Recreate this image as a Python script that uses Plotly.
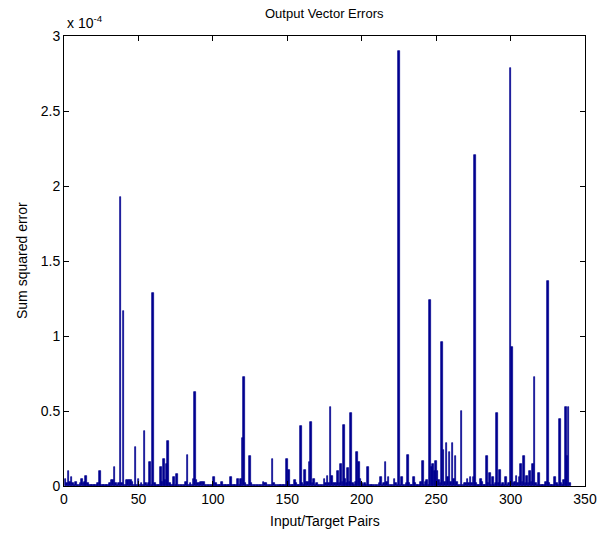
import plotly.graph_objects as go

# Sum squared error per input/target pair, in units of 1e-4
errors_e4 = [
    0.05, 0.02, 0.10, 0.03, 0.06, 0.02, 0.01, 0.03, 0.01, 0.01,
    0.02, 0.05, 0.02, 0.03, 0.07, 0.02, 0.01, 0.01, 0.01, 0.01,
    0.01, 0.01, 0.02, 0.10, 0.01, 0.01, 0.01, 0.01, 0.01, 0.01,
    0.02, 0.04, 0.04, 0.13, 0.02, 0.01, 0.02, 1.93, 0.02, 1.17,
    0.01, 0.04, 0.04, 0.04, 0.04, 0.03, 0.01, 0.26, 0.01, 0.05,
    0.01, 0.02, 0.01, 0.37, 0.02, 0.01, 0.02, 0.16, 0.01, 1.29,
    0.02, 0.01, 0.01, 0.01, 0.13, 0.03, 0.18, 0.04, 0.15, 0.30,
    0.02, 0.01, 0.01, 0.06, 0.01, 0.08, 0.01, 0.01, 0.01, 0.01,
    0.01, 0.03, 0.21, 0.01, 0.02, 0.01, 0.05, 0.63, 0.04, 0.02,
    0.02, 0.03, 0.03, 0.03, 0.01, 0.01, 0.01, 0.01, 0.01, 0.01,
    0.06, 0.02, 0.01, 0.01, 0.01, 0.03, 0.01, 0.01, 0.01, 0.01,
    0.01, 0.06, 0.01, 0.01, 0.01, 0.01, 0.05, 0.01, 0.05, 0.32,
    0.73, 0.02, 0.01, 0.01, 0.20, 0.02, 0.01, 0.01, 0.01, 0.01,
    0.01, 0.01, 0.01, 0.03, 0.02, 0.02, 0.01, 0.01, 0.01, 0.18,
    0.02, 0.01, 0.01, 0.01, 0.01, 0.01, 0.01, 0.01, 0.01, 0.18,
    0.11, 0.01, 0.01, 0.01, 0.04, 0.02, 0.01, 0.01, 0.40, 0.02,
    0.01, 0.11, 0.03, 0.03, 0.16, 0.43, 0.02, 0.05, 0.01, 0.02,
    0.01, 0.01, 0.01, 0.01, 0.05, 0.02, 0.07, 0.02, 0.53, 0.07,
    0.02, 0.02, 0.02, 0.10, 0.02, 0.15, 0.03, 0.41, 0.05, 0.02,
    0.12, 0.03, 0.49, 0.02, 0.01, 0.03, 0.23, 0.16, 0.05, 0.02,
    0.01, 0.02, 0.01, 0.13, 0.01, 0.01, 0.01, 0.01, 0.01, 0.01,
    0.01, 0.02, 0.06, 0.01, 0.02, 0.16, 0.03, 0.06, 0.01, 0.01,
    0.01, 0.05, 0.02, 0.01, 2.90, 0.01, 0.06, 0.01, 0.01, 0.02,
    0.21, 0.02, 0.01, 0.01, 0.06, 0.02, 0.01, 0.01, 0.01, 0.03,
    0.17, 0.01, 0.03, 0.04, 0.01, 1.24, 0.13, 0.15, 0.10, 0.17,
    0.10, 0.04, 0.02, 0.96, 0.24, 0.03, 0.29, 0.06, 0.23, 0.03,
    0.29, 0.05, 0.20, 0.03, 0.01, 0.01, 0.50, 0.01, 0.02, 0.02,
    0.05, 0.02, 0.06, 0.02, 0.06, 2.21, 0.02, 0.01, 0.01, 0.05,
    0.03, 0.01, 0.01, 0.20, 0.02, 0.09, 0.01, 0.06, 0.01, 0.02,
    0.49, 0.02, 0.11, 0.01, 0.02, 0.01, 0.06, 0.01, 0.02, 2.79,
    0.93, 0.02, 0.03, 0.07, 0.02, 0.06, 0.15, 0.03, 0.20, 0.02,
    0.07, 0.02, 0.10, 0.03, 0.15, 0.73, 0.02, 0.01, 0.09, 0.01,
    0.01, 0.01, 0.01, 0.03, 1.37, 0.02, 0.01, 0.01, 0.01, 0.06,
    0.02, 0.01, 0.45, 0.02, 0.01, 0.04, 0.53, 0.20, 0.53, 0.02,
]
pairs = list(range(1, len(errors_e4) + 1))
errors = [v * 1e-4 for v in errors_e4]

x_ticks = [0, 50, 100, 150, 200, 250, 300, 350]
y_tick_vals_e4 = [0, 0.5, 1, 1.5, 2, 2.5, 3]
y_tick_text = ["0", "0.5", "1", "1.5", "2", "2.5", "3"]

title_text = "Output Vector Errors"
x_title = "Input/Target Pairs"
y_title = "Sum squared error"

FONT = "Liberation Sans, Arial, sans-serif"
W, H = 609, 533
L, R, T, B = 64, 24, 36, 47

fig = go.Figure(
    go.Bar(
        x=pairs,
        y=errors,
        width=1.15,
        marker=dict(color="#00008F", line=dict(color="#00008F", width=0.7)),
    )
)

fig.update_layout(
    width=W,
    height=H,
    paper_bgcolor="white",
    plot_bgcolor="white",
    margin=dict(l=L, r=R, t=T, b=B, autoexpand=False),
    showlegend=False,
    font=dict(family=FONT, size=14, color="black"),
    bargap=0,
)

axis_common = dict(
    ticks="inside",
    ticklen=5,
    tickcolor="black",
    showgrid=False,
    zeroline=False,
    showline=True,
    linecolor="black",
    linewidth=1,
    mirror="ticks",
    automargin=False,
    tickfont=dict(family=FONT, size=14, color="black"),
)

fig.update_xaxes(range=[0, 350], tickvals=x_ticks, **axis_common)
fig.update_yaxes(
    range=[0, 3e-4],
    tickvals=[v * 1e-4 for v in y_tick_vals_e4],
    ticktext=y_tick_text,
    **axis_common,
)

fig.add_annotation(
    text=title_text, xref="paper", yref="paper",
    x=0.5, y=1, xanchor="center", yanchor="middle",
    yshift=(T - 13), showarrow=False,
    font=dict(family=FONT, size=13, color="black"),
)
fig.add_annotation(
    text=x_title, xref="paper", yref="paper",
    x=0.5, y=0, xanchor="center", yanchor="middle",
    yshift=-(521 - (H - B)), showarrow=False,
    font=dict(family=FONT, size=14, color="black"),
)
fig.add_annotation(
    text=y_title, xref="paper", yref="paper",
    x=0, y=0.5, xanchor="center", yanchor="middle", textangle=-90,
    xshift=-(L - 22), showarrow=False,
    font=dict(family=FONT, size=14, color="black"),
)
fig.add_annotation(
    text="x 10<sup>-4</sup>", xref="paper", yref="paper",
    x=0.0, y=1.0, xanchor="left", yanchor="bottom",
    xshift=1, yshift=3, showarrow=False,
    font=dict(family=FONT, size=14, color="black"),
)

fig.write_html(
    "out.html",
    config={"displayModeBar": False},
    post_script="document.body.style.margin='0';document.body.style.overflow='hidden';",
)
